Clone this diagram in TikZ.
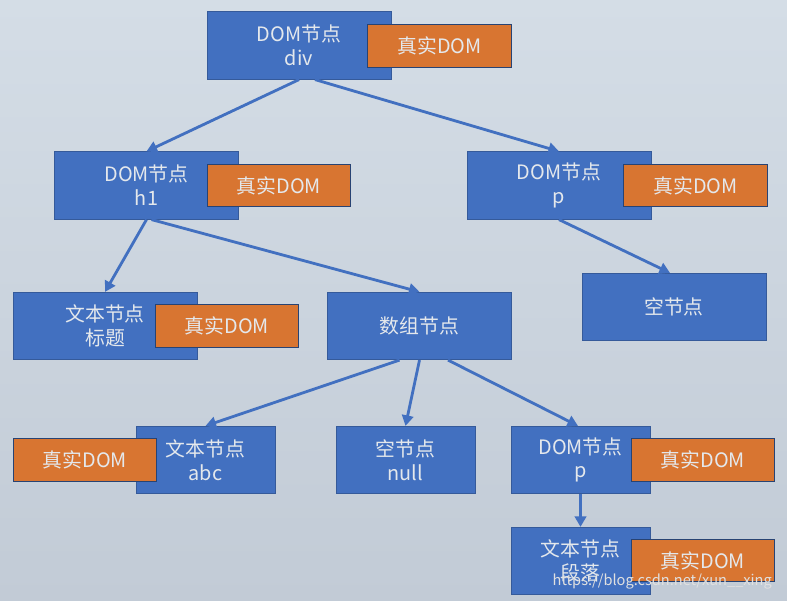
\documentclass[tikz,border=0pt]{standalone}
\usepackage{fontspec}
\newfontfamily\cjk{Noto Sans CJK SC}
\usetikzlibrary{arrows.meta}
\definecolor{boxblue}{RGB}{66,112,192}
\definecolor{domorange}{RGB}{216,117,49}
\definecolor{labeltext}{RGB}{228,232,236}
\begin{document}
\begin{tikzpicture}[x=0.02cm,y=-0.02cm,
  vnode/.style={fill=boxblue,draw=boxblue!80!black,line width=0.4pt,minimum width=3.68cm,minimum height=1.35cm,
    text=labeltext,align=center,inner sep=0pt,font=\cjk\fontsize{11.3}{13.5}\selectfont},
  vsmall/.style={vnode,minimum width=2.78cm},
  realdom/.style={fill=domorange,draw=boxblue!60!black,line width=0.4pt,minimum width=2.87cm,minimum height=0.85cm,
    text=labeltext,inner sep=0pt,font=\cjk\fontsize{11.3}{13.5}\selectfont},
  link/.style={draw=boxblue,line width=1.6pt,-{Triangle[length=6pt,width=6.5pt]}}]
% background
\fill[top color={rgb,255:red,212;green,221;blue,230},middle color={rgb,255:red,234;green,239;blue,240},
  bottom color={rgb,255:red,194;green,203;blue,214}] (0,0) rectangle (787,601);
% virtual nodes
\node[vnode] (div) at (299,45.5) {DOM节点\\div};
\node[realdom] (divdom) at (439.5,46) {真实DOM};
\node[vnode] (h1) at (146.5,185.5) {DOM节点\\h1};
\node[realdom] (h1dom) at (279,185.5) {真实DOM};
\node[vnode] (p) at (559,185.5) {DOM节点\\p};
\node[realdom] (pdom) at (695.5,185.5) {真实DOM};
\node[vnode] (empty) at (674,307) {空节点};
\node[vnode] (title) at (105,326) {文本节点\\标题};
\node[realdom] (titledom) at (227,326) {真实DOM};
\node[vnode] (array) at (419.5,326) {数组节点};
\node[vsmall] (abc) at (205.5,460) {文本节点\\abc};
\node[realdom] (abcdom) at (85,460) {真实DOM};
\node[vsmall] (null) at (405.5,460) {空节点\\null};
\node[vsmall] (ptwo) at (580.5,460) {DOM节点\\p};
\node[realdom] (ptwodom) at (703,460) {真实DOM};
\node[vsmall] (para) at (580.5,561) {文本节点\\段落};
\node[realdom] (paradom) at (703,560.5) {真实DOM};
% links
\draw[link] (div.south) -- (h1.north);
\draw[link] ([xshift=0.32cm]div.south) -- (p.north);
\draw[link] (h1.south) -- (title.north);
\draw[link] ([xshift=0.1cm]h1.south) -- (array.north);
\draw[link] (p.south) -- ([xshift=-0.08cm]empty.north);
\draw[link] ([xshift=-0.4cm]array.south) -- (abc.north);
\draw[link] (array.south) -- (null.north);
\draw[link] ([xshift=0.57cm]array.south) -- ([xshift=-0.05cm]ptwo.north);
\draw[link] (ptwo.south) -- (para.north);
% watermark
\node[text=white!88!black,font=\cjk\fontsize{8.3}{10}\selectfont,anchor=east] (mark) at (778,582) {https://blog.csdn.net/xun\_\_xing};
\end{tikzpicture}
\end{document}
